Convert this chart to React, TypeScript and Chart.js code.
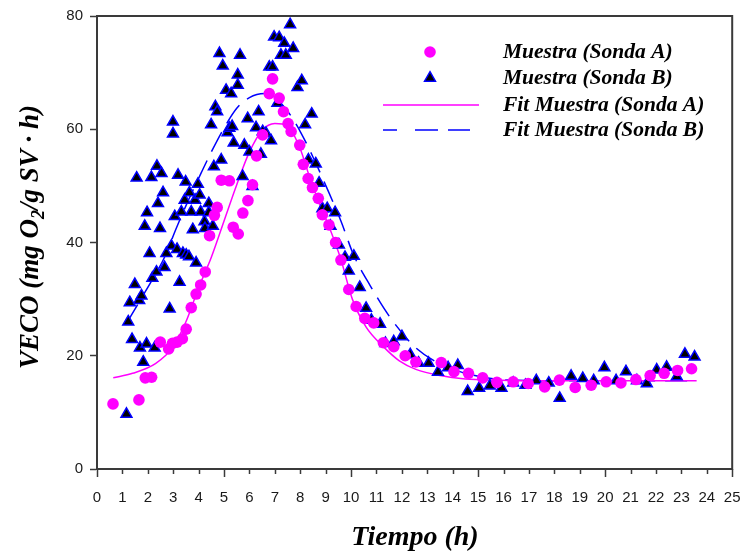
import React, { useEffect, useRef } from "react";
import { Chart, registerables } from "chart.js";

Chart.register(...registerables);

// ---------- data ----------
const sondaA_x = [0.63, 1.65, 1.9, 2.15, 2.49, 2.82, 2.97, 3.15, 3.36, 3.51, 3.71, 3.9, 4.08, 4.26, 4.43, 4.62, 4.73, 4.89, 5.21, 5.36, 5.56, 5.74, 5.94, 6.12, 6.28, 6.52, 6.78, 6.91, 7.17, 7.34, 7.52, 7.64, 7.98, 8.12, 8.31, 8.48, 8.71, 8.87, 9.13, 9.39, 9.6, 9.91, 10.2, 10.54, 10.89, 11.27, 11.68, 12.13, 12.55, 13.55, 14.05, 14.62, 15.18, 15.74, 16.38, 16.97, 17.62, 18.2, 18.82, 19.45, 20.04, 20.62, 21.21, 21.77, 22.32, 22.85, 23.4];
const sondaA_y = [11.5, 12.2, 16.1, 16.2, 22.4, 21.2, 22.2, 22.4, 23.0, 24.7, 28.5, 30.9, 32.5, 34.8, 41.2, 44.8, 46.2, 51.0, 50.9, 42.7, 41.5, 45.2, 47.4, 50.2, 55.3, 59.0, 66.3, 68.9, 65.5, 63.1, 61.0, 59.6, 57.2, 53.8, 51.3, 49.7, 47.8, 44.9, 43.1, 40.0, 36.9, 31.7, 28.7, 26.6, 25.8, 22.3, 21.6, 20.0, 18.9, 18.8, 17.2, 16.9, 16.1, 15.3, 15.4, 15.1, 14.5, 15.7, 14.4, 14.8, 15.4, 15.2, 15.8, 16.5, 16.9, 17.4, 17.7];

const sondaB_x = [1.16, 1.23, 1.29, 1.38, 1.49, 1.56, 1.66, 1.69, 1.75, 1.82, 1.88, 1.95, 1.97, 2.07, 2.14, 2.18, 2.27, 2.34, 2.36, 2.4, 2.48, 2.54, 2.6, 2.66, 2.73, 2.86, 2.93, 2.99, 2.99, 3.06, 3.15, 3.19, 3.25, 3.32, 3.38, 3.45, 3.49, 3.51, 3.62, 3.64, 3.71, 3.77, 3.86, 3.9, 3.97, 4.04, 4.08, 4.23, 4.25, 4.4, 4.4, 4.49, 4.56, 4.6, 4.66, 4.73, 4.82, 4.89, 4.95, 5.08, 5.14, 5.21, 5.28, 5.32, 5.38, 5.54, 5.54, 5.63, 5.73, 5.8, 5.93, 6.0, 6.12, 6.26, 6.36, 6.45, 6.52, 6.65, 6.78, 6.85, 6.91, 6.97, 7.1, 7.17, 7.24, 7.37, 7.43, 7.6, 7.72, 7.89, 8.06, 8.19, 8.32, 8.45, 8.61, 8.74, 8.87, 9.06, 9.19, 9.37, 9.52, 9.76, 9.91, 10.11, 10.34, 10.59, 10.8, 11.14, 11.35, 11.68, 12.0, 12.33, 12.66, 13.05, 13.42, 13.82, 14.2, 14.59, 15.04, 15.46, 15.92, 16.38, 16.86, 17.29, 17.78, 18.21, 18.66, 19.12, 19.55, 19.97, 20.43, 20.82, 21.25, 21.64, 22.03, 22.42, 22.82, 23.14, 23.52];
const sondaB_y = [9.7, 26.0, 29.4, 22.9, 32.6, 51.4, 29.8, 21.4, 30.6, 18.9, 42.9, 22.1, 45.3, 38.1, 51.5, 33.7, 21.4, 34.8, 53.5, 46.9, 42.5, 52.2, 48.8, 35.6, 38.1, 28.3, 39.4, 61.3, 59.2, 44.6, 38.8, 51.9, 33.0, 45.4, 38.1, 47.5, 50.7, 37.8, 37.5, 48.8, 45.4, 42.3, 47.5, 36.4, 50.3, 48.4, 45.4, 43.7, 42.5, 46.9, 45.3, 60.8, 42.9, 53.4, 64.0, 63.1, 73.4, 54.6, 71.2, 66.9, 59.4, 60.2, 66.3, 60.5, 57.6, 67.8, 69.6, 73.1, 51.7, 57.2, 61.9, 56.0, 49.9, 60.3, 63.1, 55.6, 59.6, 59.3, 71.0, 58.0, 71.0, 76.3, 64.6, 76.2, 73.1, 75.2, 73.1, 78.5, 74.3, 67.4, 68.6, 60.8, 54.6, 62.7, 53.9, 50.5, 46.0, 46.0, 42.9, 45.3, 39.6, 37.4, 35.0, 37.6, 32.1, 28.4, 26.3, 25.6, 22.2, 22.5, 23.4, 20.2, 18.7, 18.7, 17.1, 17.9, 18.3, 13.7, 14.3, 14.7, 14.3, 15.2, 14.8, 15.6, 15.2, 12.5, 16.4, 16.0, 15.6, 17.9, 15.6, 17.2, 15.6, 15.1, 17.5, 18.0, 16.3, 20.3, 19.8];

const fitA_x = [0.64, 1.4, 2.3, 3.0, 3.5, 4.0, 4.5, 5.0, 5.5, 6.0, 6.5, 7.0, 7.5, 8.0, 8.35, 8.75, 9.15, 9.6, 10.05, 10.6, 11.25, 11.9, 12.55, 13.5, 14.5, 15.8, 17.0, 19.0, 21.0, 23.6];
const fitA_y = [16.1, 16.9, 18.6, 21.6, 26.0, 32.0, 37.4, 43.8, 50.2, 56.0, 59.8, 61.0, 60.6, 56.5, 51.8, 46.9, 42.6, 37.0, 30.0, 25.0, 21.7, 19.1, 17.6, 16.5, 15.9, 15.7, 15.6, 15.6, 15.6, 15.6];

const fitB_x = [1.16, 1.7, 2.2, 2.7, 3.1, 3.6, 4.1, 4.5, 5.0, 5.5, 6.0, 6.6, 7.0, 7.5, 8.0, 8.5, 9.05, 9.6, 10.1, 10.75, 11.5, 12.5, 13.4, 14.5, 16.2, 18.0, 20.0, 23.6];
const fitB_y = [25.7, 29.8, 33.6, 37.8, 42.3, 47.5, 52.3, 56.0, 60.2, 63.7, 65.6, 66.3, 65.6, 63.2, 59.6, 55.1, 49.6, 43.8, 37.8, 32.4, 27.0, 21.6, 18.8, 16.9, 15.7, 15.6, 15.6, 15.6];

const xTicks = Array.from({ length: 26 }, (_, i) => i);
const yTickLabels = [0, 20, 40, 60, 80];

const legendLabels = [
  "Muestra (Sonda A)",
  "Muestra (Sonda B)",
  "Fit Muestra (Sonda A)",
  "Fit Muestra (Sonda B)",
];

const MAGENTA = "#FF00FF";
const BLUE = "#0000FF";
const AXIS = "#3a3a3a";
const SERIF = '"Liberation Serif", "Times New Roman", serif';
const SANS = '"Liberation Sans", Arial, sans-serif';

const toPts = (xs: number[], ys: number[]) => xs.map((x, i) => ({ x, y: ys[i] }));

const decorPlugin = {
  id: "decor",
  afterDraw(chart: any) {
    const { ctx, chartArea } = chart;
    const xs = chart.scales.x;
    const { left, right, top, bottom } = chartArea;
    ctx.save();
    // frame top & right
    ctx.strokeStyle = AXIS;
    ctx.lineWidth = 2;
    ctx.beginPath();
    ctx.moveTo(left - 1, top);
    ctx.lineTo(right, top);
    ctx.lineTo(right, bottom + 1);
    ctx.stroke();
    // x tick marks (major every 5)
    ctx.lineWidth = 1.5;
    for (const v of xTicks) {
      const px = Math.round(xs.getPixelForValue(v)) + 0.5;
      const len = v % 5 === 0 ? 8 : 5;
      ctx.beginPath();
      ctx.moveTo(px, bottom);
      ctx.lineTo(px, bottom + len);
      ctx.stroke();
    }

    // x title
    ctx.fillStyle = "#000";
    ctx.font = `italic bold 28px ${SERIF}`;
    ctx.textAlign = "center";
    ctx.textBaseline = "alphabetic";
    ctx.fillText("Tiempo (h)", 415, 545);

    // y title with subscript
    ctx.translate(38, 237);
    ctx.rotate(-Math.PI / 2);
    const big = `italic bold 27px ${SERIF}`;
    const small = `italic bold 18px ${SERIF}`;
    const parts: [string, string, number][] = [
      ["VECO (mg O", big, 0],
      ["2", small, 6],
      ["/g SV \u00B7 h)", big, 0],
    ];
    let total = 0;
    for (const [t, f] of parts) {
      ctx.font = f;
      total += ctx.measureText(t).width;
    }
    let cx = -total / 2;
    ctx.textAlign = "left";
    for (const [t, f, dy] of parts) {
      ctx.font = f;
      ctx.fillText(t, cx, dy);
      cx += ctx.measureText(t).width;
    }
    ctx.restore();

    // legend
    ctx.save();
    const rows = [52, 78, 105, 130];
    const symX = 430;
    ctx.font = `italic bold 21.5px ${SERIF}`;
    ctx.textAlign = "left";
    ctx.textBaseline = "middle";
    ctx.fillStyle = "#000";
    legendLabels.forEach((lab, i) => ctx.fillText(lab, 503, rows[i]));
    // circle
    ctx.fillStyle = MAGENTA;
    ctx.beginPath();
    ctx.arc(symX, rows[0], 5.8, 0, Math.PI * 2);
    ctx.fill();
    // triangle
    const r = 6.3;
    ctx.beginPath();
    for (let k = 0; k < 3; k++) {
      const a = (k * 2 * Math.PI) / 3;
      const px = symX + Math.sin(a) * r;
      const py = rows[1] - Math.cos(a) * r;
      if (k === 0) ctx.moveTo(px, py);
      else ctx.lineTo(px, py);
    }
    ctx.closePath();
    ctx.fillStyle = "#000";
    ctx.fill();
    ctx.strokeStyle = BLUE;
    ctx.lineWidth = 1.5;
    ctx.stroke();
    // lines
    ctx.strokeStyle = MAGENTA;
    ctx.lineWidth = 1.5;
    ctx.beginPath();
    ctx.moveTo(383, rows[2]);
    ctx.lineTo(479, rows[2]);
    ctx.stroke();
    ctx.strokeStyle = BLUE;
    ctx.setLineDash([14, 18, 23, 10, 22, 10]);
    ctx.beginPath();
    ctx.moveTo(383, rows[3]);
    ctx.lineTo(470, rows[3]);
    ctx.stroke();
    ctx.restore();
  },
};

export default function App() {
  const ref = useRef<HTMLCanvasElement | null>(null);

  useEffect(() => {
    document.body.style.margin = "0";
    const canvas = ref.current!;
    const chart = new Chart(canvas, {
      type: "scatter",
      data: {
        datasets: [
          {
            label: legendLabels[0],
            data: toPts(sondaA_x, sondaA_y),
            pointStyle: "circle",
            pointRadius: 5.8,
            pointBackgroundColor: MAGENTA,
            pointBorderColor: MAGENTA,
            pointBorderWidth: 0,
            showLine: false,
          },
          {
            label: legendLabels[1],
            data: toPts(sondaB_x, sondaB_y),
            pointStyle: "triangle",
            pointRadius: 6.3,
            pointBackgroundColor: "#000",
            pointBorderColor: BLUE,
            pointBorderWidth: 1.5,
            showLine: false,
          },
          {
            label: legendLabels[2],
            data: toPts(fitA_x, fitA_y),
            showLine: true,
            pointRadius: 0,
            borderColor: MAGENTA,
            borderWidth: 1.5,
            cubicInterpolationMode: "monotone",
            fill: false,
          },
          {
            label: legendLabels[3],
            data: toPts(fitB_x, fitB_y),
            showLine: true,
            pointRadius: 0,
            borderColor: BLUE,
            borderWidth: 1.5,
            borderDash: [22, 10],
            cubicInterpolationMode: "monotone",
            fill: false,
          },
        ],
      },
      options: {
        responsive: false,
        animation: false,
        devicePixelRatio: 1,
        layout: { padding: { top: 16, right: 5, left: 0, bottom: 0 } },
        plugins: {
          legend: { display: false },
          tooltip: { enabled: false },
          title: { display: false },
        },
        scales: {
          x: {
            type: "linear",
            min: 0,
            max: 25,
            afterBuildTicks: (s: any) => {
              s.ticks = xTicks.map((v) => ({ value: v }));
            },
            afterFit: (s: any) => {
              s.height = 84;
              s.paddingLeft = 0;
              s.paddingRight = 0;
            },
            ticks: {
              autoSkip: false,
              maxRotation: 0,
              padding: 20,
              color: "#1a1a1a",
              font: { family: SANS, size: 15 },
            },
            grid: { display: true, drawOnChartArea: false, drawTicks: false },
            border: { display: true, color: AXIS, width: 2 },
          },
          y: {
            type: "linear",
            min: 0,
            max: 80,
            afterBuildTicks: (s: any) => {
              s.ticks = yTickLabels.map((v) => ({ value: v }));
            },
            afterFit: (s: any) => {
              s.width = 97;
              s.paddingTop = 0;
              s.paddingBottom = 0;
            },
            ticks: {
              padding: 7,
              color: "#1a1a1a",
              font: { family: SANS, size: 15 },
            },
            grid: {
              display: true,
              drawOnChartArea: false,
              drawTicks: true,
              tickLength: 7,
              tickColor: AXIS,
              tickWidth: 1.5,
            },
            border: { display: true, color: AXIS, width: 2 },
          },
        },
      },
      plugins: [decorPlugin],
    } as any);
    return () => chart.destroy();
  }, []);

  return (
    <div style={{ position: "absolute", left: 0, top: 0, width: 740, height: 553 }}>
      <canvas ref={ref} width={740} height={553} style={{ display: "block" }} />
    </div>
  );
}
